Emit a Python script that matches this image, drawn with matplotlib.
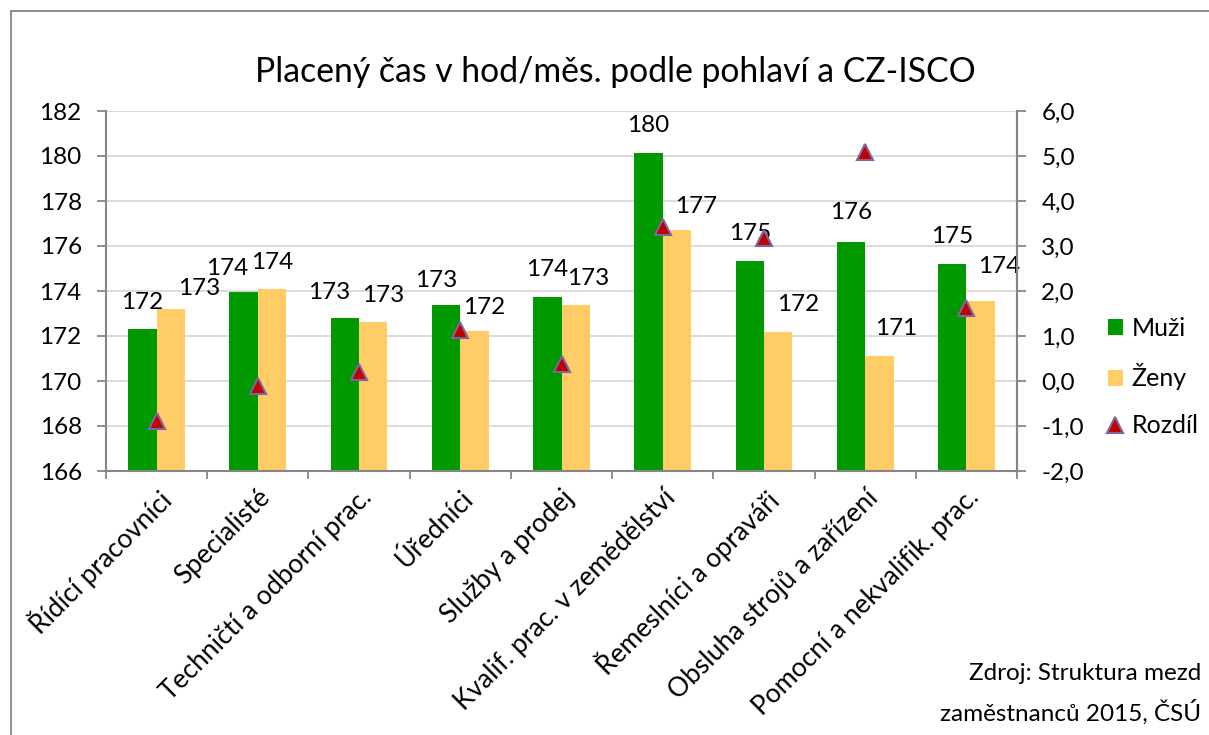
import matplotlib
matplotlib.use("Agg")
import matplotlib.pyplot as plt
from matplotlib.lines import Line2D
from matplotlib.patches import Patch, Rectangle
from matplotlib.ticker import FuncFormatter, FixedLocator

plt.rcParams['font.family'] = ['Lato', 'DejaVu Sans']

categories = ["Řídící pracovníci", "Specialisté", "Techničtí a odborní prac.", "Úředníci",
              "Služby a prodej", "Kvalif. prac. v zemědělství", "Řemeslníci a opraváři",
              "Obsluha strojů a zařízení", "Pomocní a nekvalifik. prac."]
muzi = [172.31, 173.96, 172.80, 173.36, 173.73, 180.13, 175.33, 176.19, 175.19]
zeny = [173.19, 174.07, 172.61, 172.22, 173.36, 176.71, 172.16, 171.11, 173.56]
rozdil = [-0.88, -0.11, 0.19, 1.14, 0.37, 3.42, 3.17, 5.08, 1.63]
left_ticks = [166, 168, 170, 172, 174, 176, 178, 180, 182]
right_ticks = [-2, -1, 0, 1, 2, 3, 4, 5, 6]

# label offsets (pixels) of data labels relative to bar top centre
muzi_off = [(0, 27), (-16, 23), (-16, 25), (-10, 25), (0, 28), (0, 28), (0, 28), (0, 29), (0, 28)]
zeny_off = [(28, 21), (0, 27), (10, 27), (10, 24), (13, 27), (19, 24), (20, 28), (17, 28), (19, 34)]

GREEN = '#009900'
YELLOW = '#FFCC66'
GRID = '#D9D9D9'
AXC = '#868686'

W, H = 1209, 735
fig = plt.figure(figsize=(W / 100, H / 100), dpi=100)
ax = fig.add_axes([106 / W, 1 - 471 / H, (1017 - 106) / W, (471 - 111) / H])

x = list(range(len(categories)))
bw = 0.28
ax.bar([i - bw / 2 for i in x], muzi, width=bw, color=GREEN, zorder=2)
ax.bar([i + bw / 2 for i in x], zeny, width=bw, color=YELLOW, zorder=2)
ax.set_ylim(166, 182)
ax.set_xlim(-0.5, len(categories) - 0.5)
ax.set_yticks(left_ticks)
ax.yaxis.grid(True, color=GRID, linewidth=1.3, zorder=0)
ax.set_axisbelow(True)

for i in x:
    ax.annotate(f"{muzi[i]:.0f}", (i - bw / 2, muzi[i]), xytext=muzi_off[i],
                textcoords='offset pixels', ha='center', va='center', fontsize=17.5, zorder=5)
    ax.annotate(f"{zeny[i]:.0f}", (i + bw / 2, zeny[i]), xytext=zeny_off[i],
                textcoords='offset pixels', ha='center', va='center', fontsize=17.5, zorder=5)

ax.spines['top'].set_visible(False)
for s in ['left', 'bottom', 'right']:
    ax.spines[s].set_color(AXC)
    ax.spines[s].set_linewidth(1.5)

ax.tick_params(axis='y', which='major', length=6.5, width=1.3, color=AXC, pad=11, labelsize=17.5)
ax.xaxis.set_major_locator(FixedLocator(x))
ax.set_xticklabels(categories, rotation=45, ha='right', rotation_mode='anchor', fontsize=19)
ax.tick_params(axis='x', which='major', length=0, pad=10)
ax.xaxis.set_minor_locator(FixedLocator([i - 0.5 for i in range(len(categories) + 1)]))
ax.tick_params(axis='x', which='minor', length=6, width=1.3, color=AXC)

ax2 = ax.twinx()
ax2.set_ylim(-2, 6)
ax2.set_yticks(right_ticks)
ax2.yaxis.set_major_formatter(FuncFormatter(lambda v, p: f"{v:.1f}".replace('.', ',')))
ax2.plot(x, rozdil, linestyle='none', marker='^', markersize=11, markerfacecolor='#C00000',
         markeredgecolor='#8064A2', markeredgewidth=1.5, zorder=6)
for s in ['top', 'left', 'bottom']:
    ax2.spines[s].set_visible(False)
ax2.spines['right'].set_color(AXC)
ax2.spines['right'].set_linewidth(1.5)
ax2.tick_params(axis='y', length=6.5, width=1.3, color=AXC, pad=11, labelsize=17.5)

fig.text(615 / W, 1 - 72 / H, "Placený čas v hod/měs. podle pohlaví a CZ-ISCO",
         ha='center', va='center', fontsize=24.3)

handles = [Patch(facecolor=GREEN, edgecolor='none'),
           Patch(facecolor=YELLOW, edgecolor='none'),
           Line2D([], [], linestyle='none', marker='^', markersize=11, markerfacecolor='#C00000',
                  markeredgecolor='#8064A2', markeredgewidth=1.5)]
fig.legend(handles, ["Muži", "Ženy", "Rozdíl"], loc='center left',
           bbox_to_anchor=(1085 / W, 1 - 377 / H), frameon=False, fontsize=18,
           handlelength=0.6, handleheight=0.6, handletextpad=0.35, labelspacing=0.95)

fig.text(1201 / W, 1 - 673 / H, "Zdroj: Struktura mezd", ha='right', va='center', fontsize=17.5)
fig.text(1201 / W, 1 - 712 / H, "zaměstnanců 2015, ČSÚ", ha='right', va='center', fontsize=17.5)

fig.patches.append(Rectangle((11 / W, -0.1), 1.2, 1 - 11 / H + 0.1, transform=fig.transFigure,
                             fill=False, edgecolor=AXC, linewidth=1.3))

fig.savefig("out.png", dpi=100)
